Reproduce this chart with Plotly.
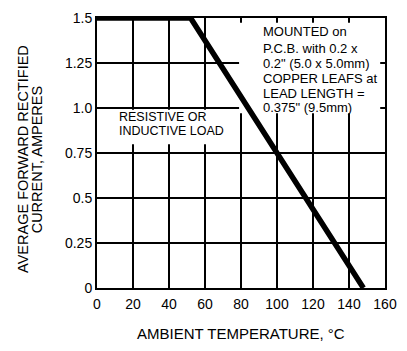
import plotly.graph_objects as go

# Data
temp_c = [0, 52, 148]
current_a = [1.5, 1.5, 0.0]

x_ticks = [0, 20, 40, 60, 80, 100, 120, 140, 160]
x_ticklabels = ["0", "20", "40", "60", "80", "100", "120", "140", "160"]
y_ticks = [0, 0.25, 0.5, 0.75, 1.0, 1.25, 1.5]
y_ticklabels = ["0", "0.25", "0.5", "0.75", "1.0", "1.25", "1.5"]

note_mounted = ["MOUNTED on", "P.C.B. with 0.2 x", "0.2\" (5.0 x 5.0mm)",
                "COPPER LEAFS at", "LEAD LENGTH =", "0.375\" (9.5mm)"]
note_load = ["RESISTIVE OR", "INDUCTIVE LOAD"]

FONT = "Liberation Sans, Arial, Helvetica, sans-serif"

fig = go.Figure()
fig.add_trace(go.Scatter(x=temp_c, y=current_a, mode="lines",
                         line=dict(color="black", width=5.5), showlegend=False,
                         hoverinfo="skip"))

W, H = 407, 351
L, R, T, B = 97, 10, 10, 63
pw, ph = W - L - R, H - T - B

def ydat(px):
    return (T + ph - px) / ph * 1.5

def xdat(px):
    return (px - L) / pw * 160

shapes = [
    dict(type="rect", xref="x", yref="y", layer="between",
         x0=xdat(245), x1=xdat(392), y0=ydat(108), y1=ydat(15),
         fillcolor="white", line=dict(width=0)),
    dict(type="rect", xref="x", yref="y", layer="between",
         x0=xdat(101), x1=xdat(240), y0=ydat(140), y1=ydat(104.5),
         fillcolor="white", line=dict(width=0)),
]

annotations = []
mounted_y = [24, 41, 57, 72, 87.5, 102.5]
for txt, py in zip(note_mounted, mounted_y):
    annotations.append(dict(text=txt, x=xdat(268), y=ydat(py), xref="x", yref="y",
                            xanchor="left", yanchor="middle", showarrow=False,
                            font=dict(family=FONT, size=13, color="black")))
load_y = [111.5, 126.5]
for txt, py in zip(note_load, load_y):
    annotations.append(dict(text=txt, x=xdat(118), y=ydat(py), xref="x", yref="y",
                            xanchor="left", yanchor="middle", showarrow=False,
                            font=dict(family=FONT, size=12.5, color="black")))

# axis titles
annotations.append(dict(text="AVERAGE FORWARD RECTIFIED", textangle=-90,
                        x=(20 - L) / pw, y=(T + ph - 155) / ph, xref="paper", yref="paper",
                        xanchor="center", yanchor="middle", showarrow=False,
                        font=dict(family=FONT, size=14.5, color="black")))
annotations.append(dict(text="CURRENT, AMPERES", textangle=-90,
                        x=(34 - L) / pw, y=(T + ph - 156) / ph, xref="paper", yref="paper",
                        xanchor="center", yanchor="middle", showarrow=False,
                        font=dict(family=FONT, size=14.5, color="black")))
annotations.append(dict(text="AMBIENT TEMPERATURE, °C",
                        x=(247 - L) / pw, y=(T + ph - 335) / ph, xref="paper", yref="paper",
                        xanchor="center", yanchor="middle", showarrow=False,
                        font=dict(family=FONT, size=15, color="black")))

fig.update_layout(
    width=W, height=H,
    margin=dict(l=L, r=R, t=T, b=B),
    paper_bgcolor="white", plot_bgcolor="white",
    shapes=shapes, annotations=annotations,
    font=dict(family=FONT, color="black"),
    xaxis=dict(range=[0, 160], tickvals=x_ticks, ticktext=x_ticklabels,
               showgrid=True, gridcolor="black", gridwidth=1.5,
               showline=True, linecolor="black", linewidth=2, mirror=True,
               ticks="outside", ticklen=2, tickcolor="rgba(0,0,0,0)",
               tickfont=dict(size=14, family=FONT, color="black"),
               zeroline=False, fixedrange=True),
    yaxis=dict(range=[0, 1.5], tickvals=y_ticks, ticktext=y_ticklabels,
               showgrid=True, gridcolor="black", gridwidth=1.5,
               showline=True, linecolor="black", linewidth=2, mirror=True,
               ticks="",
               tickfont=dict(size=14, family=FONT, color="black"),
               zeroline=False, fixedrange=True),
)

fig.write_html("out.html")
